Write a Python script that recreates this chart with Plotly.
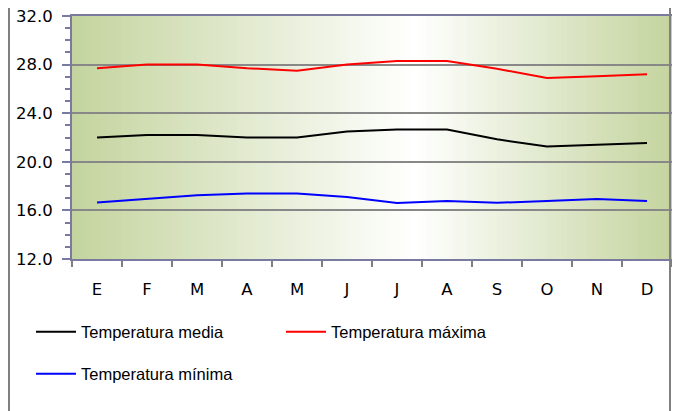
import plotly.graph_objects as go

months = ["E", "F", "M", "A", "M", "J", "J", "A", "S", "O", "N", "D"]
t_media = [22.0, 22.2, 22.2, 22.0, 22.0, 22.5, 22.65, 22.65, 21.85, 21.25, 21.4, 21.55]
t_max = [27.7, 28.0, 28.0, 27.7, 27.5, 28.0, 28.3, 28.3, 27.65, 26.9, 27.05, 27.2]
t_min = [16.65, 16.95, 17.25, 17.4, 17.4, 17.1, 16.6, 16.78, 16.62, 16.78, 16.93, 16.78]
y_ticks = [12, 16, 20, 24, 28, 32]

xs = list(range(len(months)))

fig = go.Figure()
fig.add_trace(go.Scatter(x=xs, y=t_media, mode="lines", name="Temperatura media",
                         line=dict(color="#000000", width=2), legend="legend"))
fig.add_trace(go.Scatter(x=xs, y=t_max, mode="lines", name="Temperatura máxima",
                         line=dict(color="#ff0000", width=2), legend="legend"))
fig.add_trace(go.Scatter(x=xs, y=t_min, mode="lines", name="Temperatura mínima",
                         line=dict(color="#0000ff", width=2), legend="legend2"))

# gradient background (green -> white -> green)
green = (196, 212, 158)
white = (255, 255, 255)
center = 0.57
n = 120
shapes = []
for i in range(n):
    x0 = i / n
    x1 = (i + 1) / n
    xm = (x0 + x1) / 2
    if xm <= center:
        t = xm / center
    else:
        t = (1 - xm) / (1 - center)
    c = tuple(int(round(green[k] + (white[k] - green[k]) * t)) for k in range(3))
    shapes.append(dict(type="rect", xref="x domain", yref="y domain", x0=x0, x1=x1 + 0.002,
                       y0=0, y1=1, fillcolor="rgb(%d,%d,%d)" % c, line=dict(width=0),
                       layer="below"))

# page body has an 8px margin; figure coordinates are page - 8
W, H = 672, 403
ml, mr, mt, mb = 64, 8, 8, 152
pw = W - ml - mr
ph = H - mt - mb

def px_x(p):
    return (p - ml) / pw

def px_y(p):
    return (H - mb - p) / ph

# outer frame lines
for xp in (1, 662):
    shapes.append(dict(type="line", xref="paper", yref="paper", x0=px_x(xp), x1=px_x(xp),
                       y0=px_y(H + 10), y1=px_y(-10), line=dict(color="#808080", width=2),
                       layer="above"))

axis_col = "#7a7aa0"
leg_font = dict(family="Liberation Sans", size=16.5, color="#000")
fig.update_layout(
    width=W, height=H,
    margin=dict(l=ml, r=mr, t=mt, b=mb),
    paper_bgcolor="white",
    plot_bgcolor="white",
    shapes=shapes,
    showlegend=True,
    legend=dict(orientation="h", x=px_x(23), y=px_y(324), xanchor="left", yanchor="middle",
                entrywidth=195, entrywidthmode="pixels", itemwidth=40,
                font=leg_font, bgcolor="rgba(0,0,0,0)"),
    legend2=dict(orientation="h", x=px_x(23), y=px_y(366), xanchor="left", yanchor="middle",
                 entrywidth=195, entrywidthmode="pixels", itemwidth=40,
                 font=leg_font, bgcolor="rgba(0,0,0,0)"),
    xaxis=dict(range=[-0.5, 11.5], tickvals=xs, ticktext=months, ticks="",
               showgrid=False, zeroline=False, showline=True, linecolor=axis_col, linewidth=2,
               mirror=True, ticklabelstandoff=14, automargin=False,
               tickfont=dict(family="DejaVu Sans", size=16.5, color="#000"),
               minor=dict(tick0=-0.5, dtick=1, ticks="outside", ticklen=6, tickcolor="#808080",
                          tickwidth=2, showgrid=False)),
    yaxis=dict(range=[12, 32], tickvals=y_ticks, tickformat=".1f", ticks="outside", ticklen=8,
               tickwidth=2, tickcolor=axis_col, showgrid=True, gridcolor="#888888", gridwidth=2,
               zeroline=False, showline=True, linecolor=axis_col, linewidth=2, mirror=True,
               ticklabelstandoff=6, automargin=False, ticklabeloverflow="allow",
               tickfont=dict(family="DejaVu Sans", size=16.5, color="#000"),
               minor=dict(dtick=1, tick0=12, ticks="outside", ticklen=5, tickwidth=2,
                          tickcolor=axis_col, showgrid=False)),
)

fig.write_html("out.html")
